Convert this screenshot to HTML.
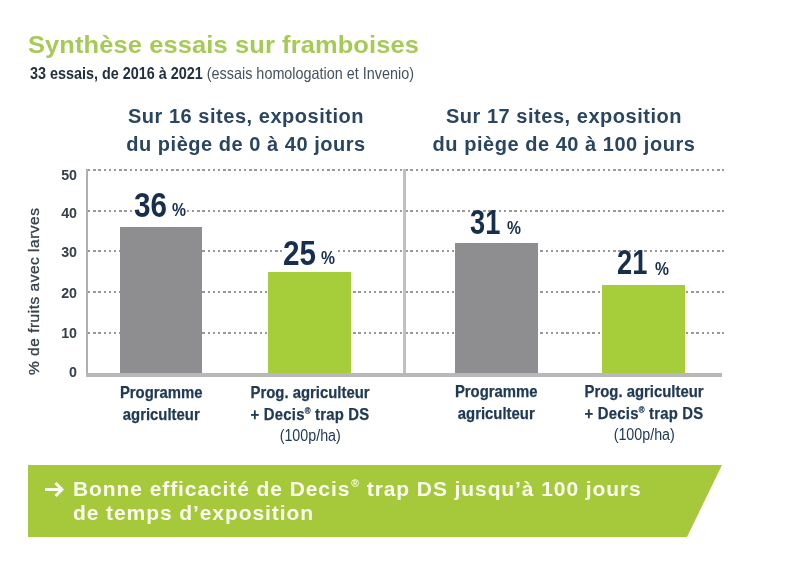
<!DOCTYPE html>
<html><head><meta charset="utf-8">
<style>
html,body{margin:0;padding:0;width:800px;height:566px;overflow:hidden;background:#fff;}
body{position:relative;font-family:"Liberation Sans",sans-serif;color:#1f3650;}
.a{position:absolute;white-space:nowrap;line-height:1;}
.title{left:28px;top:33px;font-size:24px;font-weight:bold;color:#a7ca56;letter-spacing:0.1px;transform:scaleX(1.061);transform-origin:0 0;}
.sub{left:30px;top:64.8px;font-size:16.5px;color:#25364a;transform:scaleX(0.872);transform-origin:0 0;}
.sub b{font-weight:bold;color:#222f3f;}
.sub{color:#45525f !important;}
.hdr{font-size:20px;font-weight:bold;color:#2a4560;text-align:center;line-height:28.5px;letter-spacing:0.53px;}
.grid{position:absolute;height:2px;background:repeating-linear-gradient(90deg,#999 0 2.4px,transparent 2.4px 5.2px);}
.bar{position:absolute;}
.tick{position:absolute;font-size:15.5px;font-weight:bold;color:#36404a;text-align:right;width:30px;line-height:1;transform:scaleX(0.92);transform-origin:100% 0;}
.lbl{position:absolute;font-size:17px;font-weight:bold;color:#203a55;text-align:center;line-height:21.5px;width:150px;-webkit-text-stroke:0.25px #203a55;}
.lbl .in{display:inline-block;transform:scaleX(0.875);transform-origin:50% 0;}
.lbl .r{font-weight:normal;font-size:16px;display:inline-block;transform:scaleX(1.02);margin-top:0px;-webkit-text-stroke:0;}
.num{position:absolute;font-weight:bold;color:#172f4d;white-space:nowrap;line-height:1;}
.wb{position:absolute;background:#fff;}
.num .n{font-size:34.5px;display:inline-block;transform:scaleX(0.86);transform-origin:0 0;}
.num .p{font-size:18.5px;position:absolute;top:13px;transform:scaleX(0.85);transform-origin:0 0;}
#wrap{position:absolute;left:0;top:0;width:800px;height:566px;filter:blur(0.45px);}
</style></head><body><div id="wrap">
<div class="a title">Synthèse essais sur framboises</div>
<div class="a sub"><b>33 essais, de 2016 à 2021</b> (essais homologation et Invenio)</div>

<div class="a hdr" style="left:96px;top:101.5px;width:300px;">Sur 16 sites, exposition<br>du piège de 0 à 40 jours</div>
<div class="a hdr" style="left:414px;top:101.5px;width:300px;">Sur 17 sites, exposition<br>du piège de 40 à 100 jours</div>

<!-- gridlines -->
<div class="grid" style="left:88px;width:636px;top:169px;"></div>
<div class="grid" style="left:88px;width:636px;top:209.5px;"></div>
<div class="grid" style="left:88px;width:636px;top:250px;"></div>
<div class="grid" style="left:88px;width:636px;top:291px;"></div>
<div class="grid" style="left:88px;width:636px;top:331.5px;"></div>

<!-- axes -->
<div class="bar" style="left:86px;top:169px;width:2.4px;height:208px;background:#b0b0b2;"></div>
<div class="bar" style="left:403px;top:169px;width:3px;height:208px;background:#c0c0c2;"></div>

<!-- bars -->
<div class="bar" style="left:119.5px;top:227px;width:82.5px;height:147px;background:#8e8e91;"></div>
<div class="bar" style="left:268px;top:272px;width:83px;height:102px;background:#a6ce3b;"></div>
<div class="bar" style="left:455px;top:242.5px;width:83px;height:132px;background:#8e8e91;"></div>
<div class="bar" style="left:602px;top:284.5px;width:82.5px;height:90px;background:#a6ce3b;"></div>

<div class="bar" style="left:86px;top:373px;width:636px;height:4px;background:#b8b8ba;"></div>

<!-- ticks -->
<div class="tick" style="left:47px;top:167px;">50</div>
<div class="tick" style="left:47px;top:205px;">40</div>
<div class="tick" style="left:47px;top:244px;">30</div>
<div class="tick" style="left:47px;top:284.5px;">20</div>
<div class="tick" style="left:47px;top:324.5px;">10</div>
<div class="tick" style="left:47px;top:363.5px;">0</div>

<div class="a" style="left:26px;top:375px;font-size:15.5px;letter-spacing:0.5px;color:#36414c;-webkit-text-stroke:0.35px #36414c;transform:rotate(-90deg);transform-origin:0 0;">% de fruits avec larves</div>

<!-- numbers -->
<div class="wb" style="left:133px;top:195px;width:54px;height:23px;"></div>
<div class="wb" style="left:282px;top:243px;width:53px;height:23px;"></div>
<div class="wb" style="left:469px;top:212px;width:52px;height:23px;"></div>
<div class="wb" style="left:616px;top:252px;width:53px;height:23px;"></div>
<div class="num" style="left:132px;top:188px;"><span class="n" style="margin-left:2px">36</span><span class="p" style="left:40px;">%</span></div>
<div class="num" style="left:281px;top:236px;"><span class="n" style="margin-left:2px">25</span><span class="p" style="left:40px;">%</span></div>
<div class="num" style="left:468px;top:205px;"><span class="n" style="margin-left:2px;transform:scaleX(0.79)">31</span><span class="p" style="left:39px;top:14px">%</span></div>
<div class="num" style="left:615px;top:245px;"><span class="n" style="margin-left:2px;transform:scaleX(0.79)">21</span><span class="p" style="left:40px;top:14.5px">%</span></div>

<!-- labels -->
<div class="lbl" style="left:86px;top:382px;"><span class="in">Programme<br>agriculteur</span></div>
<div class="lbl" style="left:235px;top:382px;"><span class="in">Prog. agriculteur<br><span style="letter-spacing:0.25px">+ Decis<sup style="font-size:9px;vertical-align:6px;line-height:0">®</sup> trap DS</span><br><span class="r">(100p/ha)</span></span></div>
<div class="lbl" style="left:421px;top:381px;"><span class="in">Programme<br>agriculteur</span></div>
<div class="lbl" style="left:569px;top:381px;"><span class="in">Prog. agriculteur<br><span style="letter-spacing:0.25px">+ Decis<sup style="font-size:9px;vertical-align:6px;line-height:0">®</sup> trap DS</span><br><span class="r">(100p/ha)</span></span></div>

<!-- banner -->
<svg class="a" style="left:0;top:0;" width="800" height="566"><polygon points="28,465 722,465 687,537 28,537" fill="#a5c93b"/>
<g stroke="#fbfdf0" stroke-width="3" fill="none" stroke-linecap="butt" stroke-linejoin="miter"><line x1="45" y1="489.5" x2="61" y2="489.5"/><polyline points="55.5,483 62,489.5 55.5,496"/></g></svg>
<div class="a" style="left:72.5px;top:477px;font-size:20px;font-weight:bold;color:#fbfdf0;line-height:24px;letter-spacing:0.87px;transform:scaleX(1.05);transform-origin:0 0;">Bonne efficacité de Decis<sup style="font-size:10px;vertical-align:9px;line-height:0;margin-left:1px">®</sup> trap DS jusqu’à 100 jours<br>de temps d’exposition</div>
</div></body></html>
